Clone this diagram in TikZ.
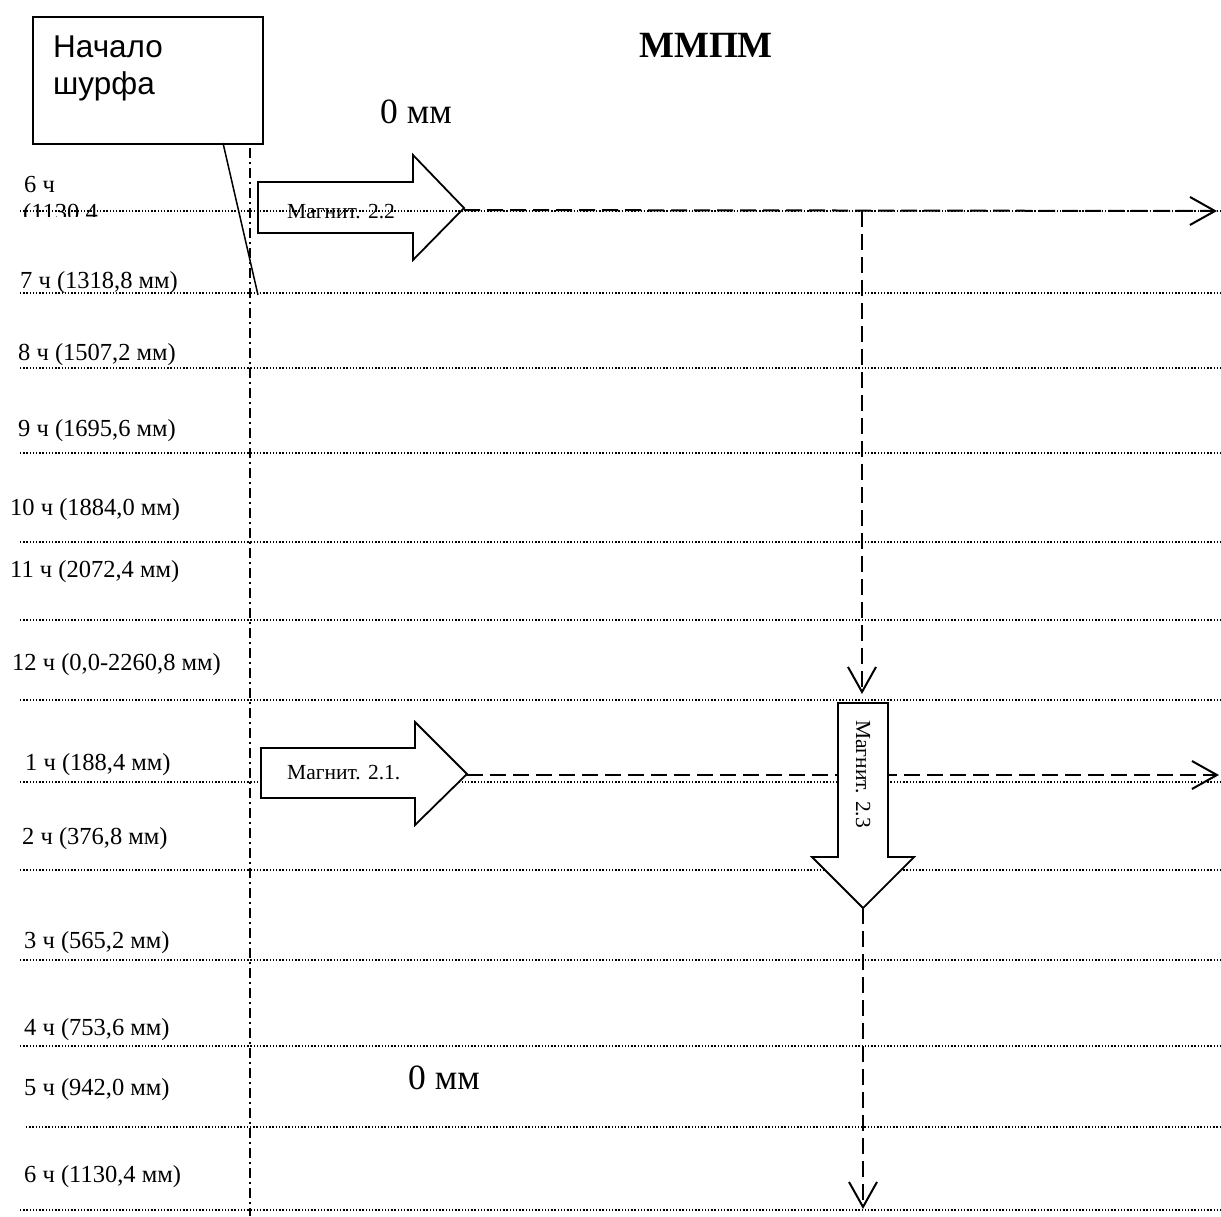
\documentclass[tikz,border=0pt]{standalone}
\usepackage{fontspec}
\setmainfont{Liberation Serif}
\newfontfamily\boxsans{Liberation Sans}
\usepackage{tikz}
\usetikzlibrary{arrows.meta}

\begin{document}
\begin{tikzpicture}[
  x=1pt, y=-1pt,
  hour/.style={anchor=base west, inner sep=0pt, font=\fontsize{24.5}{28}\selectfont},
  zero/.style={anchor=base west, inner sep=0pt, font=\fontsize{35.5}{38}\selectfont},
  magtext/.style={anchor=base west, inner sep=0pt, font=\fontsize{21.5}{24}\selectfont},
  level/.style={line width=1.3pt, dash pattern=on 1.3pt off 1.9pt},
  axis/.style={line width=1.8pt, dash pattern=on 10pt off 4pt on 2pt off 4pt},
  magnet/.style={draw, line width=1.8pt, line join=miter},
  startbox/.style={draw, line width=1.8pt, anchor=north west, minimum width=230pt, minimum height=127pt, inner sep=0pt},
  trace/.style={line width=2pt, dash pattern=on 16pt off 7pt, -{Straight Barb[length=25pt, width=28pt, line width=2pt]}}
]
\useasboundingbox (0,0) rectangle (1221,1216);

\draw[level] (20,211) -- (1221,211);
\draw[level] (20,293) -- (1221,293);
\draw[level] (20,368) -- (1221,368);
\draw[level] (20,453) -- (1221,453);
\draw[level] (20,542) -- (1221,542);
\draw[level] (20,620) -- (1221,620);
\draw[level] (20,700) -- (1221,700);
\draw[level] (20,782) -- (1221,782);
\draw[level] (20,870) -- (1221,870);
\draw[level] (20,960) -- (1221,960);
\draw[level] (20,1046) -- (1221,1046);
\draw[level] (26,1127) -- (1221,1127);
\draw[level] (20,1210) -- (1221,1210);

\node[hour] (h6top) at (24,192) {6 ч};
\begin{scope}
  \clip (0,195) rectangle (200,216);
  \node[hour] (h6cut) at (23,220) {(1130,4};
\end{scope}
\node[hour] (h7) at (20,288) {7 ч (1318,8 мм)};
\node[hour] (h8) at (18,360) {8 ч (1507,2 мм)};
\node[hour] (h9) at (18,436) {9 ч (1695,6 мм)};
\node[hour] (h10) at (10,515) {10 ч (1884,0 мм)};
\node[hour] (h11) at (10,577) {11 ч (2072,4 мм)};
\node[hour] (h12) at (12,670) {12 ч (0,0-2260,8 мм)};
\node[hour] (h1) at (25,770) {1 ч (188,4 мм)};
\node[hour] (h2) at (22,844) {2 ч (376,8 мм)};
\node[hour] (h3) at (24,948) {3 ч (565,2 мм)};
\node[hour] (h4) at (24,1035) {4 ч (753,6 мм)};
\node[hour] (h5) at (24,1095) {5 ч (942,0 мм)};
\node[hour] (h6) at (24,1182) {6 ч (1130,4 мм)};

\node[anchor=base, inner sep=0pt, font=\bfseries\fontsize{37}{40}\selectfont] (title) at (706,57) {ММПМ};
\node[zero] (zerotop) at (380,123) {0 мм};
\node[zero] (zerobot) at (408,1089) {0 мм};

\node[startbox] (start) at (32,16) {};
\node[anchor=north west, inner sep=0pt, align=left, font=\boxsans\fontsize{31.5}{37}\selectfont] (starttxt) at (53,36) {Начало\\шурфа};
\coordinate (leadtop) at (223,143);
\coordinate (leadend) at (258,295);
\draw[line width=1.5pt] (leadtop) -- (leadend);

\coordinate (axtop) at (250,148);
\coordinate (axbot) at (250,1216);
\draw[axis] (axtop) -- (axbot);

\draw[magnet] (258,182) -- (413,182) -- (413,155) -- (464,208) -- (413,260) -- (413,233) -- (258,233) -- cycle;
\coordinate (t22) at (464,210);
\node[magtext] (m22) at (287,218) {Магнит. 2.2};

\draw[magnet, fill=white] (261,748) -- (415,748) -- (415,722) -- (467,774) -- (415,825) -- (415,798) -- (261,798) -- cycle;
\coordinate (t21) at (467,775);
\node[magtext] (m21) at (287,779) {Магнит. 2.1.};

\coordinate (e22) at (1217,211);
\coordinate (j22) at (862,211);
\coordinate (v22) at (862,694);
\coordinate (e21) at (1219,775);
\draw[trace] (t22) -- (e22);
\draw[trace] (j22) -- (v22);
\draw[trace] (t21) -- (e21);

\draw[magnet, fill=white] (838,703) -- (888,703) -- (888,857) -- (914,857) -- (863,908) -- (812,857) -- (838,857) -- cycle;
\coordinate (t23) at (863,908);
\coordinate (v23) at (863,1209);
\node[magtext, rotate=-90] (m23) at (856,720) {Магнит. 2.3};
\draw[trace] (t23) -- (v23);
\end{tikzpicture}
\end{document}
